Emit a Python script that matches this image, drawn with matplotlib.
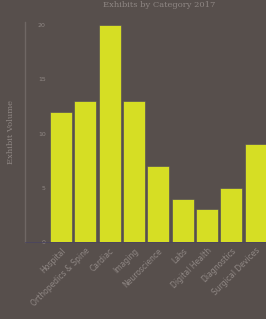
import matplotlib

matplotlib.use("Agg")

import matplotlib.pyplot as plt

categories = [
    "Hospital",
    "Orthopedics & Spine",
    "Cardiac",
    "Imaging",
    "Neuroscience",
    "Labs",
    "Digital Health",
    "Diagnostics",
    "Surgical Devices",
]
volumes = [12, 13, 20, 13, 7, 4, 3, 5, 9]

_BG = "#574f4c"
_BAR = "#d6de24"
_TEXT = "#8f8784"

fig = plt.figure(figsize=(2.66, 3.19), dpi=100, facecolor=_BG)
ax = fig.add_axes([25 / 266, 77 / 319, 241 / 266, 220 / 319], facecolor=_BG)

ax.bar(range(len(categories)), volumes, width=0.9, color=_BAR, edgecolor="#4b4560", linewidth=0.4)
ax.set_xlim(-1.47, 8.42)
ax.set_ylim(0, 20.3)
ax.set_yticks([0, 5, 10, 15, 20])
ax.set_xticks(range(len(categories)))
ax.set_xticklabels(categories, rotation=45, ha="right", rotation_mode="anchor", fontsize=5.5, color=_TEXT)
ax.tick_params(axis="y", length=0, pad=-15, labelsize=4.5, labelcolor=_TEXT)
ax.tick_params(axis="x", length=0, pad=3)
for t in ax.get_yticklabels():
    t.set_horizontalalignment("right")
ax.set_ylabel("Exhibit Volume", fontsize=6, color=_TEXT, labelpad=7, family="serif")

for side in ["top", "right"]:
    ax.spines[side].set_visible(False)
ax.spines["left"].set_color("#6f6764")
ax.spines["left"].set_linewidth(1.0)
ax.spines["bottom"].set_color("#4b4560")
ax.spines["bottom"].set_linewidth(0.6)

fig.text(0.6, 0.997, "Exhibits by Category 2017", ha="center", va="top", fontsize=6, color=_TEXT, family="serif")

fig.savefig("out.png", dpi=100, facecolor=_BG)
